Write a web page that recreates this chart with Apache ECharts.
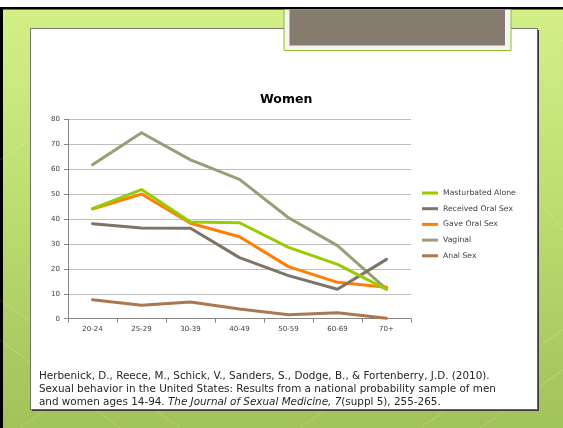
<!DOCTYPE html>
<html>
<head>
<meta charset="utf-8">
<script src="https://cdn.jsdelivr.net/npm/echarts@6/dist/echarts.min.js"></script>
<style>
html,body{margin:0;padding:0;background:#fff;}
#c{width:563px;height:428px;}
</style>
</head>
<body>
<div id="c"></div>
<script>
var categories = ['20-24','25-29','30-39','40-49','50-59','60-69','70+'];
var seriesNames = ['Masturbated Alone','Received Oral Sex','Gave Oral Sex','Vaginal','Anal Sex'];
var masturbatedAlone = [44.2, 51.8, 38.8, 38.5, 28.6, 21.8, 11.8];
var receivedOralSex = [38.1, 36.4, 36.3, 24.5, 17.3, 11.8, 23.8];
var gaveOralSex = [44.0, 50.0, 38.3, 32.9, 20.9, 14.6, 12.6];
var vaginal = [61.8, 74.6, 63.7, 55.9, 40.5, 29.3, 11.9];
var analSex = [7.6, 5.4, 6.7, 3.9, 1.6, 2.4, 0.2];
var yTicks = [0, 10, 20, 30, 40, 50, 60, 70, 80];
var titleText = 'Women';
var citeLine1 = 'Herbenick, D., Reece, M., Schick, V., Sanders, S., Dodge, B., & Fortenberry, J.D. (2010).';
var citeLine2 = 'Sexual behavior in the United States: Results from a national probability sample of men';
var citeLine3a = 'and women ages 14-94. ';
var citeLine3b = 'The Journal of Sexual Medicine, 7';
var citeLine3c = '(suppl 5), 255-265.';

var colors = ['#99cc00', '#7e7367', '#ff7f05', '#9c9c77', '#a97850'];
var seriesData = [masturbatedAlone, receivedOralSex, gaveOralSex, vaginal, analSex];
var font = '"DejaVu Sans", sans-serif';

var chart = echarts.init(document.getElementById('c'), null, {renderer: 'canvas'});

var bgLines = [];
var diag = [[0,300,180,428],[0,340,120,428],[20,428,200,300],[300,428,480,300],[420,428,563,330],[480,428,563,370],[540,60,563,40],[0,160,30,140],[538,200,563,230]];
diag.forEach(function(d){
  bgLines.push({type:'line', silent:true, z:-9, shape:{x1:d[0],y1:d[1],x2:d[2],y2:d[3]}, style:{stroke:'rgba(255,255,255,0.18)', lineWidth:1}});
});

var option = {
  animation: false,
  color: colors,
  title: {
    text: titleText,
    left: 255, top: 88,
    textStyle: {fontFamily: font, fontSize: 12.5, fontWeight: 'bold', color: '#000'}
  },
  legend: {
    orient: 'vertical',
    left: 417, top: 183,
    itemWidth: 16, itemHeight: 3,
    itemGap: 5.7,
    icon: 'rect',
    textStyle: {fontFamily: font, fontSize: 7.7, color: '#404040', lineHeight: 10},
    data: seriesNames
  },
  grid: {left: 68, right: 152, top: 119.3, bottom: 109.3, containLabel: false},
  xAxis: {
    type: 'category',
    data: categories,
    boundaryGap: true,
    axisLine: {lineStyle: {color: '#868686', width: 1}},
    axisTick: {show: true, length: 4, lineStyle: {color: '#868686'}},
    axisLabel: {fontFamily: font, fontSize: 7, color: '#404040', margin: 7}
  },
  yAxis: {
    type: 'value',
    min: yTicks[0], max: yTicks[yTicks.length-1], interval: 10,
    axisLine: {show: true, lineStyle: {color: '#868686'}},
    axisTick: {show: true, length: 4, inside: false, lineStyle: {color: '#868686'}},
    axisLabel: {fontFamily: font, fontSize: 7, color: '#404040', margin: 8},
    splitLine: {show: true, lineStyle: {color: '#bfbfbf', width: 1}}
  },
  series: seriesNames.map(function(n, i){
    return {
      name: n, type: 'line', data: seriesData[i],
      symbol: 'none', smooth: false,
      lineStyle: {width: 3, color: colors[i], cap: 'round', join: 'round'},
      itemStyle: {color: colors[i]},
      z: 2 + (seriesNames.length - i)
    };
  }),
  graphic: [
    {type:'rect', silent:true, z:-10, shape:{x:0,y:0,width:563,height:428},
      style:{fill:{type:'linear',x:0,y:0,x2:0,y2:1,colorStops:[{offset:0,color:'#d4f187'},{offset:0.5,color:'#bcdc70'},{offset:1,color:'#a2c25a'}]}}},
    {type:'rect', silent:true, z:-10, shape:{x:0,y:0,width:563,height:8}, style:{fill:'#ffffff'}},
    {type:'rect', silent:true, z:-10, shape:{x:0,y:7,width:563,height:2.5}, style:{fill:'#000000'}},
    {type:'rect', silent:true, z:-10, shape:{x:0,y:7,width:3,height:421}, style:{fill:'#000000'}}
  ].concat(bgLines).concat([
    {type:'rect', silent:true, z:-8, shape:{x:32,y:30,width:507,height:381}, style:{fill:'#3a3a3a'}},
    {type:'rect', silent:true, z:-8, shape:{x:30.5,y:28.5,width:507,height:381}, style:{fill:'#ffffff', stroke:'#555', lineWidth:0.8}},
    {type:'rect', silent:true, z:-7, shape:{x:284,y:9.5,width:227,height:41}, style:{fill:'#f4f4f2', stroke:'#8fbf2a', lineWidth:1}},
    {type:'rect', silent:true, z:-7, shape:{x:289.5,y:9.5,width:215.5,height:36}, style:{fill:'#857b6f'}},
    {type:'text', silent:true, z:5, left:39, top:369.5,
      style:{text: citeLine1 + '\n' + citeLine2 + '\n{n|' + citeLine3a + '}{i|' + citeLine3b + '}{n|' + citeLine3c + '}',
        font: '10.4px ' + font, fill:'#262626', lineHeight: 13,
        rich: {n:{fontFamily:font, fontSize:10.4, fill:'#262626', lineHeight:13}, i:{fontFamily:font, fontSize:10.4, fontStyle:'italic', fill:'#262626', lineHeight:13}}}}
  ])
};
chart.setOption(option);
</script>
</body>
</html>
